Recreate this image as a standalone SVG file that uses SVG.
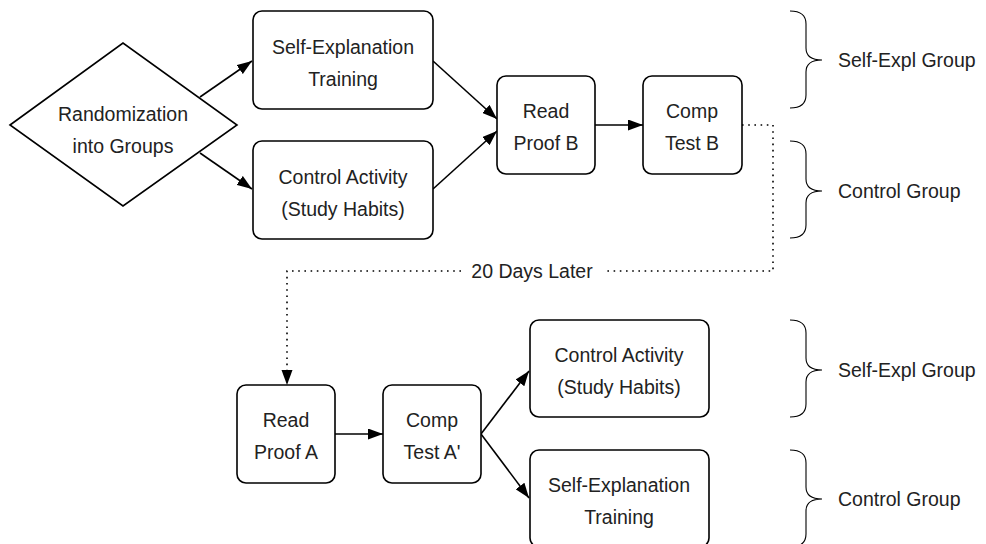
<svg xmlns="http://www.w3.org/2000/svg" width="986" height="544" viewBox="0 0 986 544">
<defs>
<marker id="ah" viewBox="0 0 15 11" refX="15" refY="5.5" markerWidth="15" markerHeight="11" markerUnits="userSpaceOnUse" orient="auto">
<path d="M0,0 L15,5.5 L0,11 Z" fill="#000"/>
</marker>
<style>
.box{fill:#fff;stroke:#000;stroke-width:1.6}
.t{font-family:"Liberation Sans",Arial,sans-serif;font-size:19.5px;fill:#222;text-anchor:middle}
.l{font-family:"Liberation Sans",Arial,sans-serif;font-size:19.5px;fill:#222}
.c{fill:none;stroke:#000;stroke-width:1.6}
.d{fill:none;stroke:#000;stroke-width:1.6;stroke-dasharray:1.6 4.6}
.br{fill:none;stroke:#000;stroke-width:1.1}
</style>
</defs>
<rect width="986" height="544" fill="#fff"/>
<g id="connectors">
<line class="c" x1="200" y1="97" x2="252" y2="61" marker-end="url(#ah)"/>
<line class="c" x1="200" y1="153" x2="252" y2="189" marker-end="url(#ah)"/>
<line class="c" x1="433" y1="61" x2="497" y2="119" marker-end="url(#ah)"/>
<line class="c" x1="433" y1="189" x2="497" y2="131" marker-end="url(#ah)"/>
<line class="c" x1="595" y1="125" x2="643" y2="125" marker-end="url(#ah)"/>
<path class="d" d="M742,125 H773 V271 H603"/>
<path class="d" d="M461,271 H287 V371"/>
<path d="M281.5,370 L292.5,370 L287,385 Z" fill="#000"/>
<text class="t" x="532" y="278">20 Days Later</text>
<line class="c" x1="335" y1="434" x2="383" y2="434" marker-end="url(#ah)"/>
<line class="c" x1="481" y1="434" x2="529" y2="371" marker-end="url(#ah)"/>
<line class="c" x1="481" y1="434" x2="529" y2="498" marker-end="url(#ah)"/>
</g>
<g id="randomization">
<polygon class="box" points="10,125 123,43 237,125 123,206"/>
<text class="t" x="123" y="121">Randomization</text>
<text class="t" x="123" y="153">into Groups</text>
</g>
<g id="selfexpl-training-1">
<rect class="box" x="253" y="11" width="180" height="98" rx="9"/>
<text class="t" x="343" y="54">Self-Explanation</text>
<text class="t" x="343" y="86">Training</text>
</g>
<g id="control-activity-1">
<rect class="box" x="253" y="141" width="180" height="98" rx="9"/>
<text class="t" x="343" y="184">Control Activity</text>
<text class="t" x="343" y="216">(Study Habits)</text>
</g>
<g id="read-proof-b">
<rect class="box" x="497" y="76" width="98" height="98" rx="9"/>
<text class="t" x="546" y="118">Read</text>
<text class="t" x="546" y="150">Proof B</text>
</g>
<g id="comp-test-b">
<rect class="box" x="643" y="76" width="99" height="98" rx="9"/>
<text class="t" x="692" y="118">Comp</text>
<text class="t" x="692" y="150">Test B</text>
</g>
<g id="read-proof-a">
<rect class="box" x="237" y="385" width="98" height="98" rx="9"/>
<text class="t" x="286" y="427">Read</text>
<text class="t" x="286" y="459">Proof A</text>
</g>
<g id="comp-test-a">
<rect class="box" x="383" y="385" width="98" height="98" rx="9"/>
<text class="t" x="432" y="427">Comp</text>
<text class="t" x="432" y="459">Test A'</text>
</g>
<g id="control-activity-2">
<rect class="box" x="530" y="320" width="179" height="97" rx="9"/>
<text class="t" x="619" y="362">Control Activity</text>
<text class="t" x="619" y="394">(Study Habits)</text>
</g>
<g id="selfexpl-training-2">
<rect class="box" x="530" y="450" width="179" height="97" rx="9"/>
<text class="t" x="619" y="492">Self-Explanation</text>
<text class="t" x="619" y="524">Training</text>
</g>
<g id="brace-1">
<path class="br" d="M790,11 Q806,11 806,24 V48 Q806,60 822,60 Q806,60 806,72 V95 Q806,108 790,108"/>
<text class="l" x="838" y="67">Self-Expl Group</text>
</g>
<g id="brace-2">
<path class="br" d="M790,141 Q806,141 806,154 V179 Q806,191 822,191 Q806,191 806,203 V225 Q806,238 790,238"/>
<text class="l" x="838" y="198">Control Group</text>
</g>
<g id="brace-3">
<path class="br" d="M790,320 Q806,320 806,333 V358 Q806,370 822,370 Q806,370 806,382 V404 Q806,417 790,417"/>
<text class="l" x="838" y="377">Self-Expl Group</text>
</g>
<g id="brace-4">
<path class="br" d="M790,450 Q806,450 806,463 V487 Q806,499 822,499 Q806,499 806,511 V534 Q806,547 790,547"/>
<text class="l" x="838" y="506">Control Group</text>
</g>
</svg>
